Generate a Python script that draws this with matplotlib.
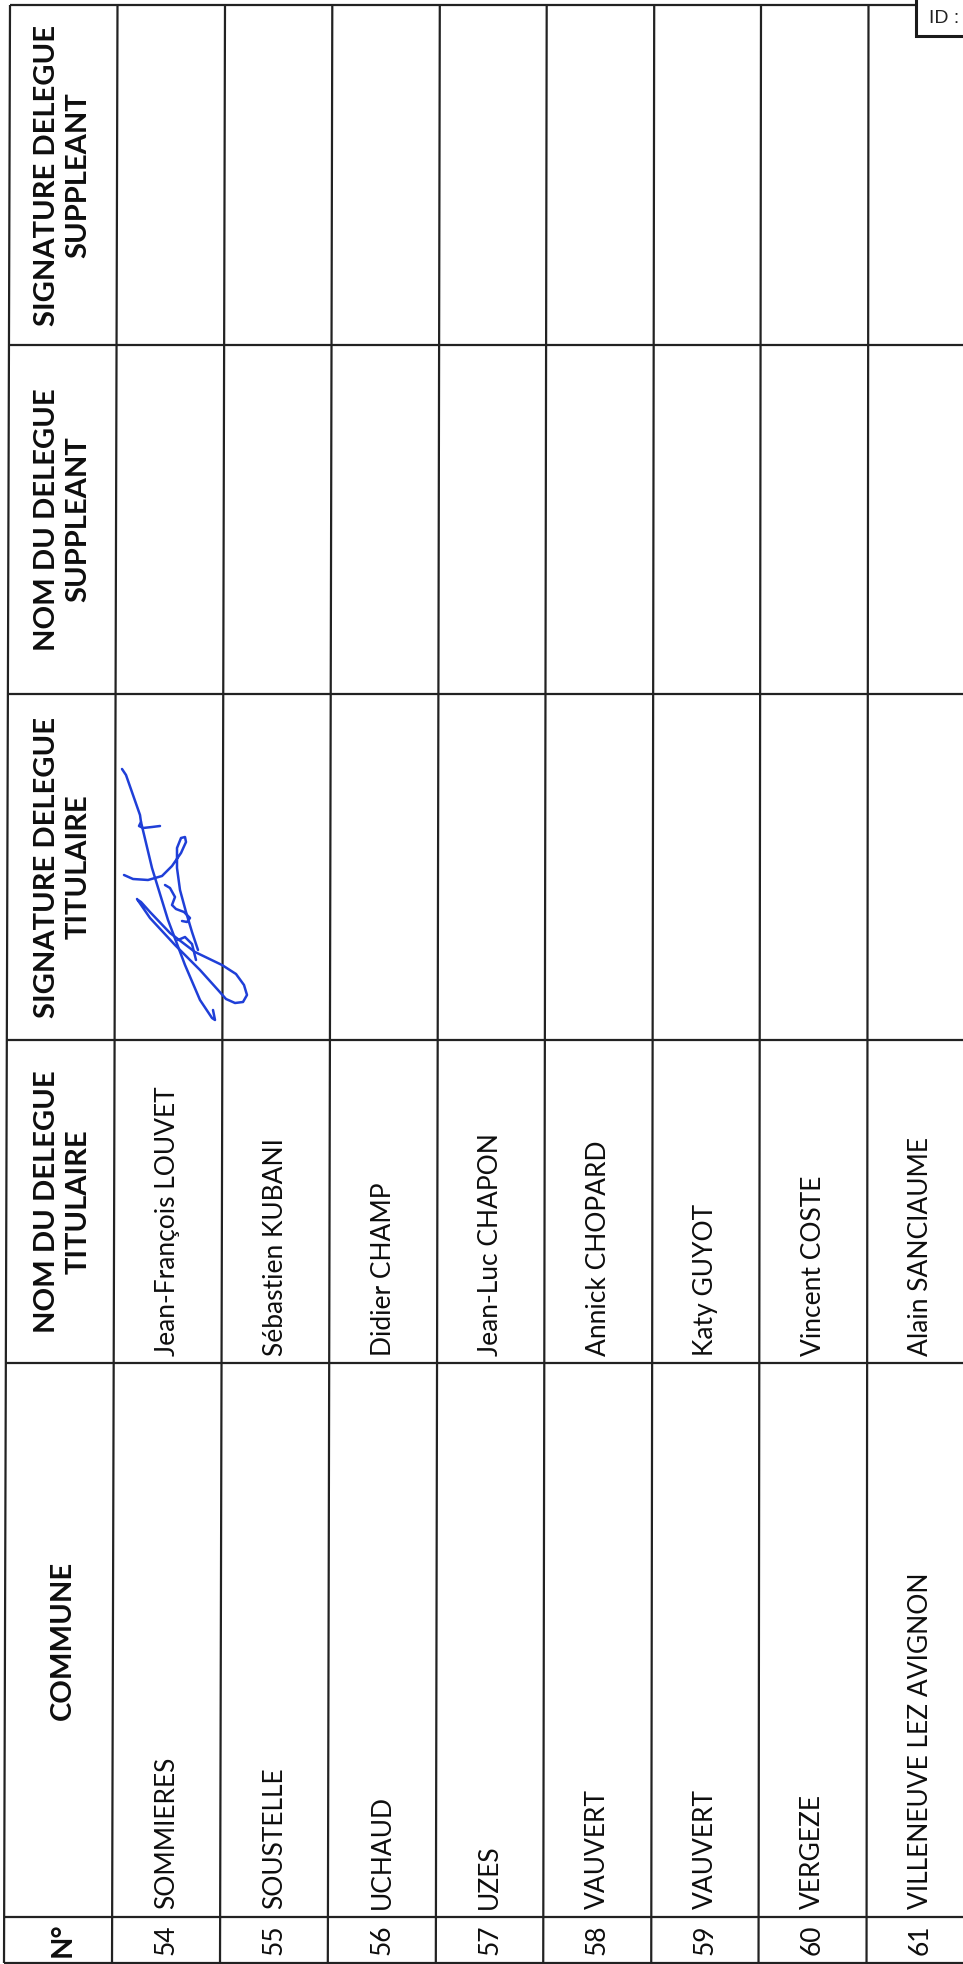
import numpy as np
import matplotlib.pyplot as plt

plt.rcParams['font.family'] = ['Lato', 'DejaVu Sans']

# --- table content
numeros = [54, 55, 56, 57, 58, 59, 60, 61]
communes = ['SOMMIERES', 'SOUSTELLE', 'UCHAUD', 'UZES', 'VAUVERT',
            'VAUVERT', 'VERGEZE', 'VILLENEUVE LEZ AVIGNON']
titulaires = ['Jean-François LOUVET', 'Sébastien KUBANI', 'Didier CHAMP',
              'Jean-Luc CHAPON', 'Annick CHOPARD', 'Katy GUYOT',
              'Vincent COSTE', 'Alain SANCIAUME']
headers = ['SIGNATURE DELEGUE\nSUPPLEANT', 'NOM DU DELEGUE\nSUPPLEANT',
           'SIGNATURE DELEGUE\nTITULAIRE', 'NOM DU DELEGUE\nTITULAIRE',
           'COMMUNE', 'N°']

# signature strokes (row 54, titulaire signature cell), pixel coords of the scan
sig_a_x = [122, 126, 133, 140, 141, 139, 143, 152, 160]
sig_a_y = [769, 775, 795, 815, 822, 826, 828, 827, 826]
sig_b_x = [141, 152, 168, 185, 200, 212, 215, 213]
sig_b_y = [822, 868, 920, 965, 1000, 1018, 1020, 1010]
sig_c_x = [124, 133, 148, 162, 172, 181, 186, 185, 181, 177, 177, 180, 186, 192, 198]
sig_c_y = [875, 879, 880, 876, 866, 853, 842, 837, 838, 848, 868, 890, 912, 932, 950]
sig_d_x = [138, 141, 150, 170, 195, 222, 236, 244, 247, 243, 235, 226, 218, 200, 175, 150, 137]
sig_d_y = [900, 902, 912, 933, 952, 965, 974, 985, 995, 1002, 1003, 999, 990, 970, 945, 918, 899]
sig_e_x = [165, 170, 175, 172, 176, 184, 190, 187, 182]
sig_e_y = [885, 888, 897, 905, 909, 912, 918, 922, 921]
sig_f_x = [178, 185, 192, 196]
sig_f_y = [940, 937, 944, 960]

# --- layout (pixels of the 963 x 1964 page)
W, H = 963, 1964
col_lines = [5, 345, 694, 1040, 1363, 1917, 1963]
row_top = [10, 117.5, 225, 332.3, 439.8, 546.7, 654.2, 761, 868.5]
line_col = '#222222'
txt_col = '#0e0e0e'


def row_x(i, y):
    # scan is slightly skewed: lines drift left towards the bottom
    top = row_top[i]
    bottom = 4 + (top - 10) * 1.0047
    return top + (bottom - top) * (y - 5) / (1963 - 5)


def row_center(i, y):
    if i + 1 < len(row_top):
        return (row_x(i, y) + row_x(i + 1, y)) / 2
    return row_x(i, y) + 53.7


fig = plt.figure(figsize=(W / 100, H / 100), dpi=100)
ax = fig.add_axes([0, 0, 1, 1])
ax.set_xlim(0, W)
ax.set_ylim(H, 0)
ax.axis('off')

# vertical lines (row separators)
for i in range(len(row_top)):
    ax.plot([row_x(i, 5), row_x(i, 1963)], [5, 1963], color=line_col, lw=1.6,
            solid_capstyle='butt')

# horizontal lines (column separators + borders)
for y in col_lines:
    ax.plot([row_x(0, y), W], [y, y], color=line_col, lw=1.6,
            solid_capstyle='butt')

# headers
for k, txt in enumerate(headers):
    yc = (col_lines[k] + col_lines[k + 1]) / 2
    ax.text(63, yc, txt, rotation=90, ha='center', va='center',
            multialignment='center', fontsize=21, fontweight='bold',
            linespacing=1.25, color=txt_col)

# body rows
for i in range(len(numeros)):
    r = i + 1
    ax.text(row_center(r, 1940), 1940, str(numeros[i]), rotation=90,
            ha='center', va='center', fontsize=19, color=txt_col)
    ax.text(row_center(r, 1800), 1909, communes[i], rotation=90,
            rotation_mode='anchor', ha='left', va='center', fontsize=19,
            color=txt_col)
    ax.text(row_center(r, 1250), 1356, titulaires[i], rotation=90,
            rotation_mode='anchor', ha='left', va='center', fontsize=19,
            color=txt_col)

# signature
for sx, sy in [(sig_a_x, sig_a_y), (sig_b_x, sig_b_y), (sig_c_x, sig_c_y),
               (sig_d_x, sig_d_y), (sig_e_x, sig_e_y), (sig_f_x, sig_f_y)]:
    ax.plot(sx, sy, color='#1f3fd8', lw=1.8, solid_joinstyle='round',
            solid_capstyle='round')

# ID box in the corner
ax.add_patch(plt.Rectangle((916, -5), 60, 41, facecolor='white',
                           edgecolor='#1a1a1a', lw=2.2, zorder=5))
ax.text(929, 18, 'ID :', fontsize=14, family='Liberation Sans',
        va='center', ha='left', color='#222222', zorder=6)

fig.savefig('out.png', dpi=100)
